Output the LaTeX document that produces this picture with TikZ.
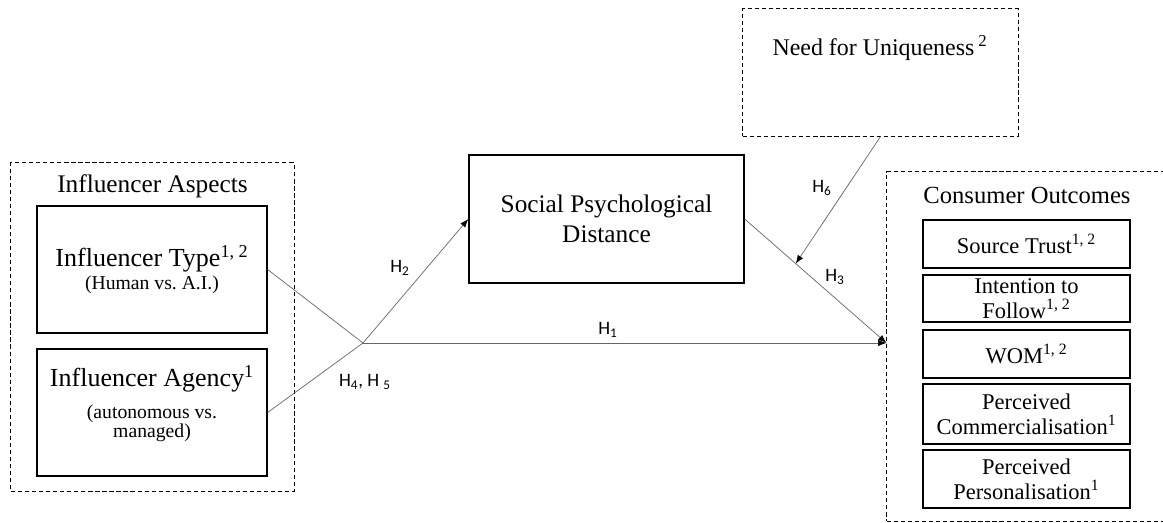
\documentclass[tikz,border=0pt]{standalone}
\usepackage{fontspec}
\setmainfont{Liberation Serif}
\newfontfamily\labfont{Carlito}
\usetikzlibrary{arrows.meta, positioning, calc}

\begin{document}
\begin{tikzpicture}[
    x=0.025cm, y=-0.025cm,
    box/.style={draw, line width=0.9pt, align=center, inner sep=0pt},
    group/.style={draw, dash pattern=on 3pt off 2pt, line width=0.7pt, inner sep=0pt},
    link/.style={draw=black!60, line width=0.5pt},
    arr/.style={-{Latex[length=6pt, width=4.5pt, color=black]}},
    lab/.style={font=\labfont\fontsize{13.5}{15}\selectfont, inner sep=0pt},
    big/.style={font=\fontsize{18}{21.5}\selectfont},
    outbox/.style={box, minimum width=5.175cm, font=\fontsize{16}{18}\selectfont}
  ]
  \useasboundingbox (0,0) rectangle (1163,523);

  % influencer aspects
  \node[group, minimum width=7.075cm, minimum height=8.2cm] (aspects) at (152.5,327) {};
  \node[big, inner sep=0pt] (aspectsttl) at (152.5,186) {Influencer Aspects};
  \node[box, minimum width=5.75cm, minimum height=3.175cm] (type) at (152,269.5)
    {\fontsize{18.5}{21}\selectfont Influencer Type\textsuperscript{1, 2}\\[2pt]
     \fontsize{14}{17}\selectfont (Human vs.\ A.I.)};
  \node[box, minimum width=5.75cm, minimum height=3.175cm] (agency) at (152,412.5)
    {\fontsize{18.5}{21}\selectfont Influencer Agency\textsuperscript{1}\\[8pt]
     \fontsize{14}{16.5}\selectfont (autonomous vs.\\
     \fontsize{14}{16.5}\selectfont managed)\\[4pt]};

  % mediator and moderator
  \node[box, big, minimum width=6.875cm, minimum height=3.2cm] (social) at (606.5,219)
    {Social Psychological\\Distance};
  \node[group, minimum width=6.875cm, minimum height=3.175cm] (unique) at (880.5,72.5) {};
  \node[inner sep=0pt, font=\fontsize{17}{19}\selectfont] (uniquetxt) at (880,48)
    {Need for Uniqueness\,\textsuperscript{2}};

  % consumer outcomes
  \node[group, minimum width=7.2cm, minimum height=8.725cm] (outcomes) at (1031,346.5) {};
  \node[inner sep=0pt, font=\fontsize{17.5}{21}\selectfont] (outttl) at (1027,195) {Consumer Outcomes};
  \node[outbox, minimum height=1.2cm] (trust) at (1026.5,244) {Source Trust\textsuperscript{1, 2}};
  \node[outbox, minimum height=1.175cm] (follow) at (1026.5,298.5) {Intention to\\Follow\textsuperscript{1, 2}};
  \node[outbox, minimum height=1.2cm] (wom) at (1026.5,354) {WOM\textsuperscript{1, 2}};
  \node[outbox, minimum height=1.5cm] (commerc) at (1026.5,414) {Perceived\\Commercialisation\textsuperscript{1}};
  \node[outbox, minimum height=1.45cm] (personal) at (1026.5,479) {Perceived\\Personalisation\textsuperscript{1}};

  % paths
  \coordinate (J) at (363,343);
  \coordinate (T) at (J -| outcomes.west);
  \draw[link] (type.east) -- (J);
  \draw[link] (agency.east) -- (J);
  \draw[link, arr] (J) -- (T);
  \draw[link, arr] (J) -- (social.west);
  \draw[link, arr] (social.east) -- (T);
  \coordinate (M) at ($(social.east)!0.36!(T)$);
  \draw[link, arr] (unique.south) -- (M);

  % hypotheses
  \node[lab] (h1) at (608,330) {H\textsubscript{1}};
  \node[lab] (h2) at (400,268) {H\textsubscript{2}};
  \node[lab] (h3) at (835,277) {H\textsubscript{3}};
  \node[lab] (h45) at (365,382) {H\textsubscript{4}, H \textsubscript{5}};
  \node[lab] (h6) at (822,188) {H\textsubscript{6}};
\end{tikzpicture}
\end{document}
